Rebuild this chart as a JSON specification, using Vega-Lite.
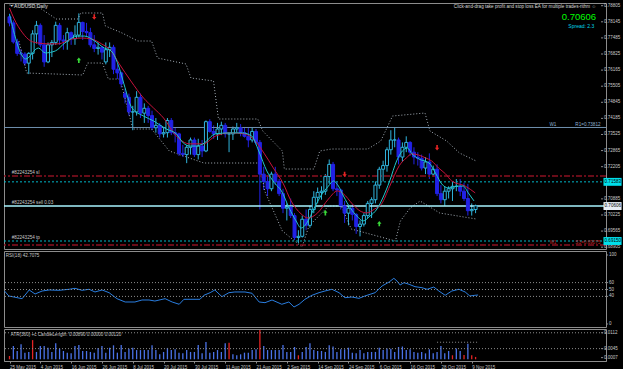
{
"$schema":"https://vega.github.io/schema/vega-lite/v6.json",
"background":"#000000",
"padding":{"left":2,"top":2,"right":0,"bottom":0},
"spacing":2,
"bounds":"flush",
"config":{
 "view":{"stroke":"#8c8c8c","strokeWidth":1},
 "axis":{"labelColor":"#c8c8c8","labelFont":"Liberation Sans","labelFontSize":4.5,"domainColor":"#8c8c8c","tickColor":"#8c8c8c","grid":false,"title":null,"tickSize":2,"labelPadding":1,"labelOverlap":false,"labelBound":false},
 "text":{"font":"Liberation Sans","fontSize":4.6,"color":"#c8c8c8"}
},
"datasets":{
 "one":[{}],
 "priceTicks":[{"p":0.78805},{"p":0.78145},{"p":0.77485},{"p":0.76825},{"p":0.76165},{"p":0.75505},{"p":0.74845},{"p":0.74185},{"p":0.73525},{"p":0.72865},{"p":0.72205},{"p":0.70885},{"p":0.70225},{"p":0.69565},{"p":0.68905}],
 "rsiTicks":[{"p":100},{"p":60},{"p":50},{"p":40},{"p":0}],
 "atrTicks":[{"p":0.0112},{"p":0.0045},{"p":0.0007}],
 "candles":[
{"i":0,"o":0.7835,"h":0.7848,"l":0.7796,"c":0.7810},
{"i":1,"o":0.7810,"h":0.7820,"l":0.7725,"c":0.7732},
{"i":2,"o":0.7732,"h":0.7745,"l":0.7675,"c":0.7685},
{"i":3,"o":0.7685,"h":0.7702,"l":0.7652,"c":0.7682},
{"i":4,"o":0.7682,"h":0.7690,"l":0.7635,"c":0.7645},
{"i":5,"o":0.7645,"h":0.7690,"l":0.7600,"c":0.7685},
{"i":6,"o":0.7685,"h":0.7780,"l":0.7660,"c":0.7765},
{"i":7,"o":0.7765,"h":0.7818,"l":0.7725,"c":0.7800},
{"i":8,"o":0.7800,"h":0.7808,"l":0.7710,"c":0.7720},
{"i":9,"o":0.7720,"h":0.7760,"l":0.7630,"c":0.7650},
{"i":10,"o":0.7650,"h":0.7730,"l":0.7645,"c":0.7720},
{"i":11,"o":0.7720,"h":0.7740,"l":0.7670,"c":0.7730},
{"i":12,"o":0.7730,"h":0.7815,"l":0.7720,"c":0.7800},
{"i":13,"o":0.7800,"h":0.7810,"l":0.7720,"c":0.7740},
{"i":14,"o":0.7740,"h":0.7760,"l":0.7700,"c":0.7735},
{"i":15,"o":0.7735,"h":0.7790,"l":0.7700,"c":0.7770},
{"i":16,"o":0.7770,"h":0.7775,"l":0.7720,"c":0.7745},
{"i":17,"o":0.7745,"h":0.7800,"l":0.7720,"c":0.7760},
{"i":18,"o":0.7760,"h":0.7849,"l":0.7750,"c":0.7812},
{"i":19,"o":0.7812,"h":0.7815,"l":0.7740,"c":0.7775},
{"i":20,"o":0.7775,"h":0.7810,"l":0.7755,"c":0.7770},
{"i":21,"o":0.7770,"h":0.7790,"l":0.7710,"c":0.7720},
{"i":22,"o":0.7720,"h":0.7760,"l":0.7690,"c":0.7705},
{"i":23,"o":0.7705,"h":0.7730,"l":0.7680,"c":0.7710},
{"i":24,"o":0.7710,"h":0.7715,"l":0.7660,"c":0.7690},
{"i":25,"o":0.7650,"h":0.7730,"l":0.7640,"c":0.7700},
{"i":26,"o":0.7700,"h":0.7730,"l":0.7670,"c":0.7710},
{"i":27,"o":0.7710,"h":0.7720,"l":0.7600,"c":0.7620},
{"i":28,"o":0.7620,"h":0.7640,"l":0.7580,"c":0.7605},
{"i":29,"o":0.7605,"h":0.7610,"l":0.7545,"c":0.7560},
{"i":30,"o":0.7520,"h":0.7540,"l":0.7480,"c":0.7505},
{"i":31,"o":0.7505,"h":0.7520,"l":0.7430,"c":0.7445},
{"i":32,"o":0.7445,"h":0.7470,"l":0.7370,"c":0.7445},
{"i":33,"o":0.7445,"h":0.7530,"l":0.7430,"c":0.7505},
{"i":34,"o":0.7505,"h":0.7520,"l":0.7420,"c":0.7440},
{"i":35,"o":0.7440,"h":0.7480,"l":0.7400,"c":0.7460},
{"i":36,"o":0.7460,"h":0.7470,"l":0.7400,"c":0.7430},
{"i":37,"o":0.7430,"h":0.7450,"l":0.7370,"c":0.7380},
{"i":38,"o":0.7380,"h":0.7420,"l":0.7360,"c":0.7390},
{"i":39,"o":0.7390,"h":0.7400,"l":0.7340,"c":0.7355},
{"i":40,"o":0.7355,"h":0.7380,"l":0.7340,"c":0.7360},
{"i":41,"o":0.7360,"h":0.7420,"l":0.7340,"c":0.7410},
{"i":42,"o":0.7410,"h":0.7420,"l":0.7350,"c":0.7360},
{"i":43,"o":0.7360,"h":0.7380,"l":0.7320,"c":0.7355},
{"i":44,"o":0.7355,"h":0.7360,"l":0.7265,"c":0.7275},
{"i":45,"o":0.7275,"h":0.7310,"l":0.7260,"c":0.7270},
{"i":46,"o":0.7270,"h":0.7310,"l":0.7235,"c":0.7300},
{"i":47,"o":0.7300,"h":0.7340,"l":0.7270,"c":0.7330},
{"i":48,"o":0.7330,"h":0.7340,"l":0.7260,"c":0.7270},
{"i":49,"o":0.7270,"h":0.7335,"l":0.7250,"c":0.7305},
{"i":50,"o":0.7305,"h":0.7330,"l":0.7260,"c":0.7285},
{"i":51,"o":0.7285,"h":0.7410,"l":0.7280,"c":0.7405},
{"i":52,"o":0.7405,"h":0.7415,"l":0.7360,"c":0.7365},
{"i":53,"o":0.7365,"h":0.7390,"l":0.7335,"c":0.7355},
{"i":54,"o":0.7355,"h":0.7400,"l":0.7330,"c":0.7375},
{"i":55,"o":0.7375,"h":0.7405,"l":0.7350,"c":0.7390},
{"i":56,"o":0.7390,"h":0.7400,"l":0.7340,"c":0.7355},
{"i":57,"o":0.7355,"h":0.7360,"l":0.7280,"c":0.7355},
{"i":58,"o":0.7355,"h":0.7385,"l":0.7330,"c":0.7375},
{"i":59,"o":0.7375,"h":0.7400,"l":0.7360,"c":0.7380},
{"i":60,"o":0.7380,"h":0.7395,"l":0.7345,"c":0.7360},
{"i":61,"o":0.7360,"h":0.7380,"l":0.7340,"c":0.7345},
{"i":62,"o":0.7345,"h":0.7380,"l":0.7300,"c":0.7330},
{"i":63,"o":0.7330,"h":0.7380,"l":0.7320,"c":0.7365},
{"i":64,"o":0.7365,"h":0.7375,"l":0.7310,"c":0.7320},
{"i":65,"o":0.7320,"h":0.7330,"l":0.7045,"c":0.7190},
{"i":66,"o":0.7190,"h":0.7220,"l":0.7125,"c":0.7160},
{"i":67,"o":0.7160,"h":0.7185,"l":0.7100,"c":0.7130},
{"i":68,"o":0.7130,"h":0.7200,"l":0.7120,"c":0.7190},
{"i":69,"o":0.7190,"h":0.7220,"l":0.7145,"c":0.7160},
{"i":70,"o":0.7160,"h":0.7170,"l":0.7100,"c":0.7110},
{"i":71,"o":0.7110,"h":0.7130,"l":0.7030,"c":0.7050},
{"i":72,"o":0.7050,"h":0.7070,"l":0.7000,"c":0.7055},
{"i":73,"o":0.7055,"h":0.7090,"l":0.7010,"c":0.7020},
{"i":74,"o":0.7020,"h":0.7030,"l":0.6920,"c":0.6930},
{"i":75,"o":0.6930,"h":0.6960,"l":0.6907,"c":0.6935},
{"i":76,"o":0.6935,"h":0.7020,"l":0.6930,"c":0.7005},
{"i":77,"o":0.7005,"h":0.7045,"l":0.6960,"c":0.6980},
{"i":78,"o":0.6980,"h":0.7060,"l":0.6970,"c":0.7045},
{"i":79,"o":0.7045,"h":0.7120,"l":0.7030,"c":0.7095},
{"i":80,"o":0.7095,"h":0.7135,"l":0.7070,"c":0.7115},
{"i":81,"o":0.7115,"h":0.7140,"l":0.7085,"c":0.7120},
{"i":82,"o":0.7120,"h":0.7190,"l":0.7105,"c":0.7180},
{"i":83,"o":0.7180,"h":0.7250,"l":0.7150,"c":0.7230},
{"i":84,"o":0.7230,"h":0.7240,"l":0.7120,"c":0.7130},
{"i":85,"o":0.7130,"h":0.7160,"l":0.7100,"c":0.7125},
{"i":86,"o":0.7125,"h":0.7130,"l":0.7045,"c":0.7060},
{"i":87,"o":0.7060,"h":0.7080,"l":0.6990,"c":0.7030},
{"i":88,"o":0.7030,"h":0.7060,"l":0.6980,"c":0.7050},
{"i":89,"o":0.7050,"h":0.7065,"l":0.7000,"c":0.7025},
{"i":90,"o":0.7025,"h":0.7030,"l":0.6945,"c":0.6975},
{"i":91,"o":0.6975,"h":0.7000,"l":0.6935,"c":0.6985},
{"i":92,"o":0.6985,"h":0.7030,"l":0.6975,"c":0.7020},
{"i":93,"o":0.7020,"h":0.7080,"l":0.7010,"c":0.7070},
{"i":94,"o":0.7070,"h":0.7095,"l":0.7010,"c":0.7085},
{"i":95,"o":0.7085,"h":0.7160,"l":0.7070,"c":0.7145},
{"i":96,"o":0.7145,"h":0.7220,"l":0.7130,"c":0.7210},
{"i":97,"o":0.7210,"h":0.7245,"l":0.7160,"c":0.7225},
{"i":98,"o":0.7225,"h":0.7300,"l":0.7200,"c":0.7290},
{"i":99,"o":0.7290,"h":0.7370,"l":0.7270,"c":0.7330},
{"i":100,"o":0.7330,"h":0.7382,"l":0.7300,"c":0.7330},
{"i":101,"o":0.7330,"h":0.7340,"l":0.7230,"c":0.7260},
{"i":102,"o":0.7260,"h":0.7320,"l":0.7240,"c":0.7300},
{"i":103,"o":0.7300,"h":0.7345,"l":0.7280,"c":0.7320},
{"i":104,"o":0.7320,"h":0.7325,"l":0.7265,"c":0.7280},
{"i":105,"o":0.7280,"h":0.7300,"l":0.7230,"c":0.7260},
{"i":106,"o":0.7260,"h":0.7280,"l":0.7225,"c":0.7255},
{"i":107,"o":0.7255,"h":0.7270,"l":0.7205,"c":0.7215},
{"i":108,"o":0.7215,"h":0.7260,"l":0.7190,"c":0.7240},
{"i":109,"o":0.7240,"h":0.7275,"l":0.7170,"c":0.7190},
{"i":110,"o":0.7190,"h":0.7225,"l":0.7180,"c":0.7210},
{"i":111,"o":0.7210,"h":0.7230,"l":0.7100,"c":0.7110},
{"i":112,"o":0.7110,"h":0.7145,"l":0.7070,"c":0.7085},
{"i":113,"o":0.7085,"h":0.7140,"l":0.7060,"c":0.7120},
{"i":114,"o":0.7120,"h":0.7140,"l":0.7090,"c":0.7130},
{"i":115,"o":0.7130,"h":0.7160,"l":0.7080,"c":0.7140},
{"i":116,"o":0.7140,"h":0.7170,"l":0.7120,"c":0.7140},
{"i":117,"o":0.7140,"h":0.7170,"l":0.7100,"c":0.7120},
{"i":118,"o":0.7120,"h":0.7155,"l":0.7080,"c":0.7090},
{"i":119,"o":0.7090,"h":0.7150,"l":0.7020,"c":0.7040},
{"i":120,"o":0.7040,"h":0.7070,"l":0.7020,"c":0.7045},
{"i":121,"o":0.7045,"h":0.7065,"l":0.7030,"c":0.7060}
 ],
 "fast":[
{"i":0,"v":0.7846},{"i":4.2,"v":0.7662},{"i":7.5,"v":0.7707},{"i":9.3,"v":0.7687},{"i":11.9,"v":0.7695},{"i":14.4,"v":0.7728},{"i":17.7,"v":0.7756},{"i":19.5,"v":0.7756},{"i":22.1,"v":0.7736},{"i":24.6,"v":0.7707},{"i":26.4,"v":0.7695},{"i":28.5,"v":0.7625},{"i":29.7,"v":0.7560},{"i":31.8,"v":0.7461},{"i":34.8,"v":0.7428},{"i":37.4,"v":0.7408},{"i":40.7,"v":0.7375},{"i":43.3,"v":0.7355},{"i":45.1,"v":0.7318},{"i":46.8,"v":0.7305},{"i":48.4,"v":0.7305},{"i":50.2,"v":0.7314},{"i":53.5,"v":0.7355},{"i":57.1,"v":0.7359},{"i":60.4,"v":0.7359},{"i":62.9,"v":0.7346},{"i":64.7,"v":0.7285},{"i":66.8,"v":0.7203},{"i":68.8,"v":0.7154},{"i":70.6,"v":0.7121},{"i":72.6,"v":0.7051},{"i":74.4,"v":0.6998},{"i":75.7,"v":0.6969},{"i":77.5,"v":0.6998},{"i":79.0,"v":0.7047},{"i":80.8,"v":0.7100},{"i":82.8,"v":0.7141},{"i":84.1,"v":0.7162},{"i":85.4,"v":0.7141},{"i":86.7,"v":0.7100},{"i":88.5,"v":0.7051},{"i":90.2,"v":0.7018},{"i":91.8,"v":0.6998},{"i":93.6,"v":0.7018},{"i":95.4,"v":0.7047},{"i":96.9,"v":0.7092},{"i":98.7,"v":0.7162},{"i":100.5,"v":0.7244},{"i":102.0,"v":0.7285},{"i":103.3,"v":0.7297},{"i":104.5,"v":0.7273},{"i":106.3,"v":0.7252},{"i":108.9,"v":0.7236},{"i":110.7,"v":0.7191},{"i":112.2,"v":0.7150},{"i":114.0,"v":0.7133},{"i":116.5,"v":0.7141},{"i":117.8,"v":0.7141},{"i":119.1,"v":0.7113},{"i":120.6,"v":0.7080}
 ],
 "slow":[
{"i":0,"v":0.7871},{"i":1.1,"v":0.7830},{"i":3.4,"v":0.7769},{"i":5.5,"v":0.7736},{"i":7.3,"v":0.7728},{"i":10.1,"v":0.7724},{"i":12.6,"v":0.7724},{"i":16.2,"v":0.7744},{"i":18.8,"v":0.7748},{"i":21.3,"v":0.7744},{"i":23.9,"v":0.7724},{"i":26.4,"v":0.7695},{"i":28.5,"v":0.7642},{"i":31.5,"v":0.7572},{"i":34.8,"v":0.7502},{"i":37.4,"v":0.7461},{"i":40.0,"v":0.7420},{"i":43.3,"v":0.7346},{"i":46.8,"v":0.7314},{"i":50.2,"v":0.7314},{"i":53.5,"v":0.7346},{"i":57.1,"v":0.7359},{"i":61.1,"v":0.7355},{"i":64.2,"v":0.7318},{"i":66.2,"v":0.7273},{"i":68.5,"v":0.7215},{"i":71.1,"v":0.7150},{"i":73.1,"v":0.7080},{"i":75.7,"v":0.7027},{"i":77.5,"v":0.7010},{"i":80.0,"v":0.7031},{"i":82.8,"v":0.7088},{"i":85.1,"v":0.7121},{"i":86.7,"v":0.7109},{"i":89.0,"v":0.7068},{"i":91.0,"v":0.7039},{"i":92.8,"v":0.7031},{"i":94.8,"v":0.7047},{"i":96.6,"v":0.7068},{"i":98.7,"v":0.7140},{"i":101.2,"v":0.7225},{"i":103.0,"v":0.7256},{"i":104.5,"v":0.7273},{"i":108.1,"v":0.7256},{"i":109.6,"v":0.7244},{"i":111.4,"v":0.7215},{"i":113.2,"v":0.7191},{"i":114.8,"v":0.7162},{"i":118.3,"v":0.7141},{"i":120.9,"v":0.7113}
 ],
 "upper":[
{"i":0,"v":0.78834},{"i":7.02,"v":0.78834},{"i":8.3,"v":0.7867},{"i":12.13,"v":0.7826},{"i":17.74,"v":0.7826},{"i":18.51,"v":0.78506},{"i":24.13,"v":0.78506},{"i":24.89,"v":0.77973},{"i":29.23,"v":0.77686},{"i":33.32,"v":0.77358},{"i":36.89,"v":0.77358},{"i":38.42,"v":0.76661},{"i":45.83,"v":0.76415},{"i":47.1,"v":0.75841},{"i":52.97,"v":0.75718},{"i":54.25,"v":0.7416},{"i":64.46,"v":0.7416},{"i":65.74,"v":0.73668},{"i":70.84,"v":0.72848},{"i":71.35,"v":0.7211},{"i":79.02,"v":0.7211},{"i":80.55,"v":0.72848},{"i":83.61,"v":0.7293},{"i":93.06,"v":0.7293},{"i":96.38,"v":0.73258},{"i":99.44,"v":0.74283},{"i":107.87,"v":0.74406},{"i":109.15,"v":0.73668},{"i":113.49,"v":0.73258},{"i":116.81,"v":0.72766},{"i":121.15,"v":0.72438}
 ],
 "lower":[
{"i":2.43,"v":0.77358},{"i":4.47,"v":0.76046},{"i":19.02,"v":0.75964},{"i":20.3,"v":0.76456},{"i":24.13,"v":0.76456},{"i":25.66,"v":0.758},{"i":28.72,"v":0.758},{"i":30.51,"v":0.74693},{"i":32.04,"v":0.7375},{"i":36.89,"v":0.7375},{"i":41.49,"v":0.72848},{"i":50.42,"v":0.72356},{"i":64.97,"v":0.72356},{"i":66.25,"v":0.71208},{"i":70.84,"v":0.69568},{"i":75.95,"v":0.68912},{"i":77.74,"v":0.69773},{"i":82.85,"v":0.70593},{"i":86.16,"v":0.70593},{"i":88.72,"v":0.6965},{"i":100.2,"v":0.69158},{"i":101.48,"v":0.69978},{"i":104.03,"v":0.70511},{"i":106.59,"v":0.70798},{"i":111.69,"v":0.70306},{"i":121.15,"v":0.7006}
 ],
 "rsi":[
{"i":0,"v":47.8},{"i":1.1,"v":40.6},{"i":4.5,"v":36.7},{"i":6.3,"v":49.3},{"i":7.8,"v":43.5},{"i":9.6,"v":47.8},{"i":11.4,"v":49.3},{"i":13.9,"v":48.8},{"i":16.5,"v":50.3},{"i":18.0,"v":51.7},{"i":19.8,"v":48.8},{"i":21.6,"v":50.3},{"i":23.1,"v":46.4},{"i":24.9,"v":49.3},{"i":26.7,"v":45.4},{"i":28.7,"v":36.7},{"i":30.8,"v":31.9},{"i":33.3,"v":31.9},{"i":35.1,"v":34.8},{"i":36.9,"v":34.8},{"i":38.4,"v":33.3},{"i":41.0,"v":36.7},{"i":42.8,"v":31.9},{"i":44.6,"v":28.6},{"i":45.8,"v":35.8},{"i":47.1,"v":35.8},{"i":49.9,"v":35.8},{"i":50.9,"v":41.6},{"i":52.5,"v":45.4},{"i":53.7,"v":49.3},{"i":55.5,"v":39.6},{"i":57.3,"v":45.4},{"i":58.8,"v":46.4},{"i":61.4,"v":46.4},{"i":63.2,"v":44.5},{"i":65.0,"v":31.9},{"i":66.5,"v":30.9},{"i":68.3,"v":34.8},{"i":70.8,"v":28.6},{"i":72.6,"v":31.9},{"i":73.9,"v":24.6},{"i":75.2,"v":28.6},{"i":76.7,"v":35.8},{"i":78.5,"v":41.6},{"i":80.3,"v":45.4},{"i":81.8,"v":47.8},{"i":83.6,"v":50.3},{"i":85.4,"v":45.4},{"i":86.9,"v":38.1},{"i":88.7,"v":39.1},{"i":90.5,"v":37.2},{"i":92.0,"v":40.6},{"i":94.6,"v":45.4},{"i":96.4,"v":55.1},{"i":98.2,"v":60.9},{"i":99.4,"v":66.2},{"i":100.2,"v":62.3},{"i":101.0,"v":56.5},{"i":102.0,"v":59.9},{"i":103.3,"v":57.5},{"i":104.8,"v":54.1},{"i":106.6,"v":52.6},{"i":107.9,"v":50.3},{"i":109.6,"v":53.6},{"i":110.9,"v":47.8},{"i":112.5,"v":41.6},{"i":114.2,"v":47.8},{"i":116.0,"v":50.3},{"i":117.6,"v":46.4},{"i":118.8,"v":40.6},{"i":120.1,"v":41.6},{"i":120.9,"v":42.0}
 ],
 "atr":[
{"i":0,"v":0.0014,"k":"r"},{"i":1,"v":0.0056,"k":"b"},{"i":2,"v":0.0035,"k":"b"},{"i":3,"v":0.0063,"k":"b"},{"i":4,"v":0.0028,"k":"b"},{"i":5,"v":0.0031,"k":"b"},{"i":6,"v":0.0081,"k":"r"},{"i":7,"v":0.0031,"k":"b"},{"i":8,"v":0.0056,"k":"b"},{"i":9,"v":0.0056,"k":"b"},
{"i":10,"v":0.0049,"k":"b"},{"i":11,"v":0.0031,"k":"b"},{"i":12,"v":0.0068,"k":"b"},{"i":13,"v":0.0045,"k":"b"},{"i":14,"v":0.0035,"k":"b"},{"i":15,"v":0.0028,"k":"b"},{"i":16,"v":0.0025,"k":"b"},{"i":17,"v":0.0056,"k":"b"},{"i":18,"v":0.0060,"k":"b"},{"i":19,"v":0.0035,"k":"b"},
{"i":20,"v":0.0035,"k":"b"},{"i":21,"v":0.0031,"k":"b"},{"i":22,"v":0.0028,"k":"b"},{"i":23,"v":0.0048,"k":"b"},{"i":24,"v":0.0056,"k":"b"},{"i":25,"v":0.0028,"k":"b"},{"i":26,"v":0.0049,"k":"b"},{"i":27,"v":0.0059,"k":"b"},{"i":28,"v":0.0028,"k":"b"},{"i":29,"v":0.0060,"k":"b"},
{"i":30,"v":0.0031,"k":"b"},{"i":31,"v":0.0045,"k":"b"},{"i":32,"v":0.0049,"k":"b"},{"i":33,"v":0.0039,"k":"b"},{"i":34,"v":0.0039,"k":"b"},{"i":35,"v":0.0039,"k":"b"},{"i":36,"v":0.0039,"k":"b"},{"i":37,"v":0.0059,"k":"b"},{"i":38,"v":0.0039,"k":"b"},{"i":39,"v":0.0021,"k":"b"},
{"i":40,"v":0.0031,"k":"b"},{"i":41,"v":0.0048,"k":"b"},{"i":42,"v":0.0039,"k":"b"},{"i":43,"v":0.0042,"k":"b"},{"i":44,"v":0.0028,"k":"b"},{"i":45,"v":0.0025,"k":"b"},{"i":46,"v":0.0039,"k":"b"},{"i":47,"v":0.0031,"k":"b"},{"i":48,"v":0.0031,"k":"b"},{"i":49,"v":0.0060,"k":"b"},
{"i":50,"v":0.0025,"k":"b"},{"i":51,"v":0.0073,"k":"b"},{"i":52,"v":0.0028,"k":"b"},{"i":53,"v":0.0031,"k":"b"},{"i":54,"v":0.0039,"k":"b"},{"i":55,"v":0.0031,"k":"b"},{"i":56,"v":0.0068,"k":"b"},{"i":57,"v":0.0070,"k":"r"},{"i":58,"v":0.0021,"k":"b"},{"i":59,"v":0.0017,"k":"b"},
{"i":60,"v":0.0021,"k":"b"},{"i":61,"v":0.0028,"k":"b"},{"i":62,"v":0.0028,"k":"b"},{"i":63,"v":0.0039,"k":"b"},{"i":64,"v":0.0042,"k":"b"},{"i":65,"v":0.0124,"k":"r"},{"i":66,"v":0.0056,"k":"b"},{"i":67,"v":0.0039,"k":"b"},{"i":68,"v":0.0039,"k":"b"},{"i":69,"v":0.0039,"k":"b"},
{"i":70,"v":0.0039,"k":"b"},{"i":71,"v":0.0060,"k":"b"},{"i":72,"v":0.0031,"k":"b"},{"i":73,"v":0.0031,"k":"b"},{"i":74,"v":0.0052,"k":"b"},{"i":75,"v":0.0017,"k":"r"},{"i":76,"v":0.0031,"k":"b"},{"i":77,"v":0.0052,"k":"b"},{"i":78,"v":0.0068,"k":"b"},{"i":79,"v":0.0039,"k":"b"},
{"i":80,"v":0.0035,"k":"b"},{"i":81,"v":0.0035,"k":"b"},{"i":82,"v":0.0031,"k":"b"},{"i":83,"v":0.0059,"k":"b"},{"i":84,"v":0.0054,"k":"b"},{"i":85,"v":0.0031,"k":"b"},{"i":86,"v":0.0042,"k":"b"},{"i":87,"v":0.0042,"k":"b"},{"i":88,"v":0.0049,"k":"b"},{"i":89,"v":0.0028,"k":"b"},
{"i":90,"v":0.0025,"k":"b"},{"i":91,"v":0.0039,"k":"b"},{"i":92,"v":0.0025,"k":"b"},{"i":93,"v":0.0031,"k":"b"},{"i":94,"v":0.0031,"k":"b"},{"i":95,"v":0.0031,"k":"b"},{"i":96,"v":0.0049,"k":"b"},{"i":97,"v":0.0039,"k":"b"},{"i":98,"v":0.0046,"k":"b"},{"i":99,"v":0.0045,"k":"b"},
{"i":100,"v":0.0031,"k":"b"},{"i":101,"v":0.0052,"k":"b"},{"i":102,"v":0.0054,"k":"b"},{"i":103,"v":0.0039,"k":"b"},{"i":104,"v":0.0042,"k":"b"},{"i":105,"v":0.0031,"k":"b"},{"i":106,"v":0.0028,"k":"b"},{"i":107,"v":0.0031,"k":"b"},{"i":108,"v":0.0025,"k":"b"},{"i":109,"v":0.0042,"k":"b"},
{"i":110,"v":0.0025,"k":"b"},{"i":111,"v":0.0031,"k":"b"},{"i":112,"v":0.0056,"k":"b"},{"i":113,"v":0.0025,"k":"b"},{"i":114,"v":0.0035,"k":"b"},{"i":115,"v":0.0017,"k":"r"},{"i":116,"v":0.0046,"k":"b"},{"i":117,"v":0.0035,"k":"b"},{"i":118,"v":0.0018,"k":"r"},{"i":119,"v":0.0066,"k":"b"},
{"i":120,"v":0.0017,"k":"r"},{"i":121,"v":0.0010,"k":"r"}
 ],
 "arrowsDown":[{"i":22,"p":0.7834},{"i":87,"p":0.7189},{"i":111,"p":0.7298}],
 "arrowsUp":[{"i":18,"p":0.7657},{"i":82,"p":0.7032},{"i":96,"p":0.6987}]
},
"vconcat":[
{
 "width":602,"height":246,
 "layer":[
  {"data":{"name":"candles"},"mark":{"type":"rule","strokeWidth":1},
   "encoding":{"x":{"field":"i","type":"quantitative","scale":{"domain":[-0.13,153.56],"nice":false,"zero":false},"axis":null},
   "y":{"field":"l","type":"quantitative","scale":{"domain":[0.6883,0.78916],"nice":false,"zero":false},"axis":null},"y2":{"field":"h"},
   "color":{"condition":{"test":"datum.c>=datum.o","value":"#30b4dc"},"value":"#2222e6"}}},
  {"data":{"name":"upper"},"mark":{"type":"line","color":"#a4adb6","strokeWidth":1,"strokeDash":[1,2]},
   "encoding":{"x":{"field":"i","type":"quantitative"},"y":{"field":"v","type":"quantitative","axis":null}}},
  {"data":{"name":"lower"},"mark":{"type":"line","color":"#a4adb6","strokeWidth":1,"strokeDash":[1,2]},
   "encoding":{"x":{"field":"i","type":"quantitative"},"y":{"field":"v","type":"quantitative","axis":null}}},
  {"data":{"name":"one"},"mark":{"type":"rule","color":"#6f8fae","strokeWidth":1},"encoding":{"y":{"datum":0.73812,"type":"quantitative","axis":null}}},
  {"data":{"name":"one"},"mark":{"type":"rule","color":"#8a1020","strokeWidth":1.4,"strokeDash":[6,2,2,2]},"encoding":{"y":{"datum":0.71823,"type":"quantitative","axis":null}}},
  {"data":{"name":"one"},"mark":{"type":"rule","color":"#00b8c8","strokeWidth":1,"strokeDash":[2,2]},"encoding":{"y":{"datum":0.71583,"type":"quantitative","axis":null}}},
  {"data":{"name":"one"},"mark":{"type":"rule","color":"#a8f4ff","strokeWidth":1.5},"encoding":{"y":{"datum":0.70592,"type":"quantitative","axis":null}}},
  {"data":{"name":"one"},"mark":{"type":"rule","color":"#00b8c8","strokeWidth":1,"strokeDash":[2,2]},"encoding":{"y":{"datum":0.69158,"type":"quantitative","axis":null}}},
  {"data":{"name":"one"},"mark":{"type":"rule","color":"#8a1020","strokeWidth":1.4,"strokeDash":[6,2,2,2]},"encoding":{"y":{"datum":0.68994,"type":"quantitative","axis":null}}},
  {"data":{"name":"candles"},"mark":{"type":"bar","width":3,"strokeWidth":1},
   "encoding":{"x":{"field":"i","type":"quantitative"},
   "y":{"field":"o","type":"quantitative","axis":null},"y2":{"field":"c"},
   "fill":{"condition":{"test":"datum.c>=datum.o","value":"#000000"},"value":"#2222e6"},
   "stroke":{"condition":{"test":"datum.c>=datum.o","value":"#30b4dc"},"value":"#2222e6"}}},
  {"data":{"name":"slow"},"mark":{"type":"line","color":"#c8123c","strokeWidth":1,"interpolate":"monotone"},
   "encoding":{"x":{"field":"i","type":"quantitative"},"y":{"field":"v","type":"quantitative","axis":null}}},
  {"data":{"name":"fast"},"mark":{"type":"line","color":"#20c8cc","strokeWidth":1,"interpolate":"monotone"},
   "encoding":{"x":{"field":"i","type":"quantitative"},"y":{"field":"v","type":"quantitative","axis":null}}},
  {"data":{"name":"arrowsDown"},"mark":{"type":"point","filled":true,"color":"#e42424","opacity":1,"size":30,"shape":"M-0.3,-1L0.3,-1L0.3,0L0.8,0L0,1L-0.8,0L-0.3,0Z"},
   "encoding":{"x":{"field":"i","type":"quantitative"},"y":{"field":"p","type":"quantitative","axis":null}}},
  {"data":{"name":"arrowsUp"},"mark":{"type":"point","filled":true,"color":"#38d838","opacity":1,"size":30,"shape":"M-0.3,1L0.3,1L0.3,0L0.8,0L0,-1L-0.8,0L-0.3,0Z"},
   "encoding":{"x":{"field":"i","type":"quantitative"},"y":{"field":"p","type":"quantitative","axis":null}}},
  {"data":{"name":"priceTicks"},"mark":{"type":"rule","color":"#8c8c8c"},"encoding":{"x":{"datum":153.56},"x2":{"datum":154.1},"y":{"field":"p","type":"quantitative","axis":null}}},
  {"data":{"name":"priceTicks"},"mark":{"type":"text","align":"left","baseline":"middle","dx":3,"fontSize":4.5,"color":"#c8c8c8"},"encoding":{"x":{"datum":153.56},"y":{"field":"p","type":"quantitative","axis":null},"text":{"field":"p","format":".5f"}}},
  {"data":{"name":"one"},"mark":{"type":"text","text":"AUDUSD,Daily","align":"left","baseline":"middle","color":"#e0e0e0","fontSize":5},"encoding":{"x":{"datum":1.2},"y":{"datum":0.78795,"axis":null}}},
  {"data":{"name":"one"},"mark":{"type":"text","text":"▼","align":"left","baseline":"middle","color":"#e0e0e0","fontSize":3.5},"encoding":{"x":{"datum":0.1},"y":{"datum":0.78795,"axis":null}}},
  {"data":{"name":"one"},"mark":{"type":"text","text":"Click-and-drag take profit and stop loss EA for multiple trades-rithm ☺","align":"right","baseline":"middle","color":"#d8d8d8","fontSize":4.6},"encoding":{"x":{"datum":152.3},"y":{"datum":0.78752,"axis":null}}},
  {"data":{"name":"one"},"mark":{"type":"text","text":"0.70606","align":"right","baseline":"middle","color":"#00ff00","fontSize":9.5},"encoding":{"x":{"datum":152.3},"y":{"datum":0.7834,"axis":null}}},
  {"data":{"name":"one"},"mark":{"type":"text","text":"Spread: 2.3","align":"right","baseline":"middle","color":"#00d8e8","fontSize":5},"encoding":{"x":{"datum":151.8},"y":{"datum":0.7797,"axis":null}}},
  {"data":{"name":"one"},"mark":{"type":"text","text":"#82243254 sl","align":"left","baseline":"bottom","dy":-1},"encoding":{"x":{"datum":0.6},"y":{"datum":0.71823,"axis":null}}},
  {"data":{"name":"one"},"mark":{"type":"text","text":"#82243254 sell 0.03","align":"left","baseline":"bottom","dy":-1},"encoding":{"x":{"datum":0.6},"y":{"datum":0.70592,"axis":null}}},
  {"data":{"name":"one"},"mark":{"type":"text","text":"#82243254 tp","align":"left","baseline":"bottom","dy":-1},"encoding":{"x":{"datum":0.6},"y":{"datum":0.69158,"axis":null}}},
  {"data":{"name":"one"},"mark":{"type":"text","text":"W1","align":"left","baseline":"bottom","color":"#8fb0d0"},"encoding":{"x":{"datum":140.2},"y":{"datum":0.73812,"axis":null}}},
  {"data":{"name":"one"},"mark":{"type":"text","text":"R1=0.73812","align":"left","baseline":"bottom","color":"#8fb0d0"},"encoding":{"x":{"datum":146.9},"y":{"datum":0.73812,"axis":null}}},
  {"data":{"name":"one"},"mark":{"type":"text","text":"W1","align":"left","baseline":"bottom","color":"#c02020"},"encoding":{"x":{"datum":140.2},"y":{"datum":0.68994,"axis":null}}},
  {"data":{"name":"one"},"mark":{"type":"text","text":"S1=0.69075","align":"left","baseline":"bottom","color":"#c02020"},"encoding":{"x":{"datum":146.9},"y":{"datum":0.68994,"axis":null}}},
  {"data":{"name":"one"},"mark":{"type":"rect","color":"#00e0ec"},"encoding":{"x":{"datum":154.2},"x2":{"datum":158.9},"y":{"datum":0.71745,"axis":null},"y2":{"datum":0.71421}}},
  {"data":{"name":"one"},"mark":{"type":"text","text":"0.71583","align":"left","baseline":"middle","color":"#000000","fontSize":4.5},"encoding":{"x":{"datum":154.5},"y":{"datum":0.71583,"axis":null}}},
  {"data":{"name":"one"},"mark":{"type":"rect","color":"#e8eef4"},"encoding":{"x":{"datum":154.2},"x2":{"datum":158.9},"y":{"datum":0.70754,"axis":null},"y2":{"datum":0.7043}}},
  {"data":{"name":"one"},"mark":{"type":"text","text":"0.70606","align":"left","baseline":"middle","color":"#000000","fontSize":4.5},"encoding":{"x":{"datum":154.5},"y":{"datum":0.70592,"axis":null}}},
  {"data":{"name":"one"},"mark":{"type":"rect","color":"#00e0ec"},"encoding":{"x":{"datum":154.2},"x2":{"datum":158.9},"y":{"datum":0.6932,"axis":null},"y2":{"datum":0.68996}}},
  {"data":{"name":"one"},"mark":{"type":"text","text":"0.69150","align":"left","baseline":"middle","color":"#000000","fontSize":4.5},"encoding":{"x":{"datum":154.5},"y":{"datum":0.69158,"axis":null}}}
 ]
},
{
 "width":602,"height":76,
 "layer":[
  {"data":{"name":"rsi"},"mark":{"type":"line","color":"#2a7ee0","strokeWidth":1},
   "encoding":{"x":{"field":"i","type":"quantitative","scale":{"domain":[-0.13,153.56],"nice":false,"zero":false},"axis":null},
   "y":{"field":"v","type":"quantitative","scale":{"domain":[-4.35,105.8],"nice":false,"zero":false},"axis":null}}},
  {"data":{"name":"one"},"mark":{"type":"rule","color":"#8c8c8c","strokeDash":[1,2]},"encoding":{"y":{"datum":60,"axis":null}}},
  {"data":{"name":"one"},"mark":{"type":"rule","color":"#8c8c8c","strokeDash":[1,2]},"encoding":{"y":{"datum":50,"axis":null}}},
  {"data":{"name":"one"},"mark":{"type":"rule","color":"#8c8c8c","strokeDash":[1,2]},"encoding":{"y":{"datum":40,"axis":null}}},
  {"data":{"name":"rsiTicks"},"mark":{"type":"rule","color":"#8c8c8c"},"encoding":{"x":{"datum":153.56},"x2":{"datum":154.1},"y":{"field":"p","type":"quantitative","axis":null}}},
  {"data":{"name":"rsiTicks"},"mark":{"type":"text","align":"left","baseline":"middle","dx":3,"fontSize":4.5,"color":"#c8c8c8"},"encoding":{"x":{"datum":153.56},"y":{"field":"p","type":"quantitative","axis":null},"text":{"field":"p","format":"d"}}},
  {"data":{"name":"one"},"mark":{"type":"text","text":"RSI(18) 42.7075","align":"left","baseline":"middle"},"encoding":{"x":{"datum":0.3},"y":{"datum":99,"axis":null}}}
 ]
},
{
 "width":602,"height":32,
 "layer":[
  {"data":{"name":"atr"},"mark":{"type":"bar","width":1.3},
   "encoding":{"x":{"field":"i","type":"quantitative","scale":{"domain":[-0.13,153.56],"nice":false,"zero":false},
     "axis":{"orient":"bottom","values":[0,8,16,24,32,40,48,56,64,72,80,88,96,104,112,120],"labelAlign":"left","labelPadding":1,"tickSize":2,"labelOverlap":false,"labelFontSize":4.5,"labelExpr":"['25 May 2015','4 Jun 2015','16 Jun 2015','26 Jun 2015','8 Jul 2015','20 Jul 2015','30 Jul 2015','11 Aug 2015','21 Aug 2015','2 Sep 2015','14 Sep 2015','24 Sep 2015','6 Oct 2015','16 Oct 2015','28 Oct 2015','9 Nov 2015'][datum.value/8]"}},
   "y":{"field":"v","type":"quantitative","scale":{"domain":[-0.00072,0.01279],"nice":false,"zero":false},"axis":null},
   "y2":{"datum":0},
   "color":{"field":"k","type":"nominal","scale":{"domain":["b","r"],"range":["#4a72e8","#e42424"]},"legend":null}}},
  {"data":{"name":"one"},"mark":{"type":"rule","color":"#8c8c8c","strokeDash":[1,2]},"encoding":{"y":{"datum":0.0112,"axis":null}}},
  {"data":{"name":"one"},"mark":{"type":"rule","color":"#8c8c8c","strokeDash":[1,2]},"encoding":{"y":{"datum":0.0045,"axis":null}}},
  {"data":{"name":"one"},"mark":{"type":"rule","color":"#8c8c8c","strokeDash":[1,2]},"encoding":{"x":{"datum":111},"x2":{"datum":121.5},"y":{"datum":0.0072,"axis":null}}},
  {"data":{"name":"atrTicks"},"mark":{"type":"rule","color":"#8c8c8c"},"encoding":{"x":{"datum":153.56},"x2":{"datum":154.1},"y":{"field":"p","type":"quantitative","axis":null}}},
  {"data":{"name":"atrTicks"},"mark":{"type":"text","align":"left","baseline":"middle","dx":3,"fontSize":4.5,"color":"#c8c8c8"},"encoding":{"x":{"datum":153.56},"y":{"field":"p","type":"quantitative","axis":null},"text":{"field":"p","format":".4f"}}},
  {"data":{"name":"one"},"mark":{"type":"text","text":"ATR(360) +c CandleLength: 0.00890 0.00000 0.00120","align":"left","baseline":"middle"},"encoding":{"x":{"datum":0.3},"y":{"datum":0.0103,"axis":null}}}
 ]
}
]
}
